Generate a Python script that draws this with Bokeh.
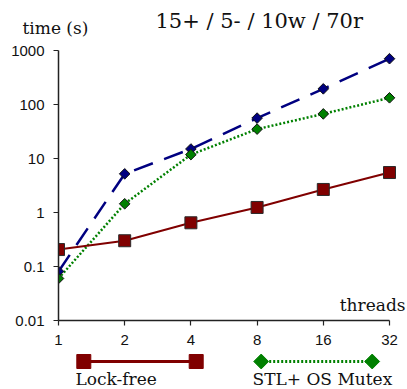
import math
from bokeh.plotting import figure
from bokeh.layouts import column
from bokeh.models import Range1d, FixedTicker, Label
from bokeh.embed import file_html
from bokeh.resources import INLINE

# ---- data ----
threads = [1, 2, 4, 8, 16, 32]
lock_free = [0.206, 0.30, 0.645, 1.24, 2.67, 5.5]
stl_blue = [0.081, 5.2, 15, 56, 195, 705]
stl_os_mutex = [0.06, 1.45, 11.8, 35, 67, 133]
x_ticks = [1, 2, 4, 8, 16, 32]
x_labels = ["1", "2", "4", "8", "16", "32"]
y_ticks = [0.01, 0.1, 1, 10, 100, 1000]
y_labels = ["0.01", "0.1", "1", "10", "100", "1000"]
legend_names = ["Lock-free", "STL+ OS Mutex"]
title_text = "15+ / 5- / 10w / 70r"
y_title = "time (s)"
x_title = "threads"

RED = "#800000"
BLUE = "#000080"
GREEN = "#008000"
SERIF = "DejaVu Serif"
SANS = "Liberation Sans"
TXT = "#111111"

W = 407
H_TOP = 40
H_MAIN = 313
H_LEG = 389 - H_TOP - H_MAIN

FRAME_LEFT = 58
PLOT_W = 331
FRAME_W = W - FRAME_LEFT
x_end = 2 ** (math.log2(x_ticks[-1]) * FRAME_W / PLOT_W)


def strip(height):
    f = figure(width=W, height=height, x_range=Range1d(0, W), y_range=Range1d(height, 0),
               output_backend="svg", toolbar_location=None,
               x_axis_location=None, y_axis_location=None,
               min_border_left=0, min_border_right=0, min_border_top=0, min_border_bottom=0)
    f.frame_align = False
    f.outline_line_color = None
    f.xgrid.visible = False
    f.ygrid.visible = False
    return f


# ---- top strip: title texts ----
top = strip(H_TOP)
top.add_layout(Label(x=155, y=20, text=title_text, text_font=SERIF, text_font_size="21px",
                     text_color=TXT, text_baseline="alphabetic"))
top.add_layout(Label(x=22, y=27, text=y_title, text_font=SERIF, text_font_size="17px",
                     text_color=TXT, text_baseline="alphabetic"))

# ---- main chart ----
p = figure(width=W, height=H_MAIN, x_axis_type="log", y_axis_type="log",
           x_range=Range1d(1, x_end), y_range=Range1d(y_ticks[0], y_ticks[-1]),
           output_backend="svg", toolbar_location=None,
           min_border_left=FRAME_LEFT, min_border_right=0, min_border_top=10,
           min_border_bottom=H_MAIN - 10 - 270)
p.frame_align = False
p.outline_line_color = None
p.xgrid.visible = False
p.ygrid.visible = False

for ax in (p.xaxis[0], p.yaxis[0]):
    ax.axis_line_color = "#222222"
    ax.axis_line_width = 1.5
    ax.major_tick_line_color = "#222222"
    ax.major_tick_line_width = 1.2
    ax.major_tick_in = 0
    ax.major_tick_out = 5
    ax.minor_tick_line_color = None
    ax.major_label_text_font = SANS
    ax.major_label_text_font_size = "15px"
    ax.major_label_text_color = TXT
    ax.major_label_standoff = 9

p.xaxis.bounds = (x_ticks[0], x_ticks[-1])
p.xaxis.ticker = FixedTicker(ticks=x_ticks)
p.yaxis.ticker = FixedTicker(ticks=y_ticks)
p.xaxis.major_label_overrides = {t: l for t, l in zip(x_ticks, x_labels)}
p.yaxis.major_label_overrides = {t: l for t, l in zip(y_ticks, y_labels)}

p.line(threads, stl_blue, line_color=BLUE, line_width=2.5, line_dash="20 12")
p.line(threads, stl_os_mutex, line_color=GREEN, line_width=2.5, line_dash="2 2")
p.line(threads, lock_free, line_color=RED, line_width=2)
p.scatter(threads, lock_free, marker="square", size=12, fill_color=RED,
          line_color="#2a2a2a", line_width=1)
p.scatter(threads, stl_blue, marker="square", size=7.5, angle=math.pi / 4,
          fill_color=BLUE, line_color="#111111", line_width=1)
p.scatter(threads, stl_os_mutex, marker="square", size=7.5, angle=math.pi / 4,
          fill_color=GREEN, line_color="#111111", line_width=1)

p.add_layout(Label(x=W - 2, y=304 - H_TOP, x_units="canvas", y_units="canvas", text=x_title,
                   text_font=SERIF, text_font_size="17px", text_color=TXT,
                   text_baseline="alphabetic", text_align="right"))

# ---- legend strip ----
lg = strip(H_LEG)
ly = 361 - H_TOP - H_MAIN
red_x = [83.3, 195.7]
green_x = [260.7, 371.7]
lg.line(red_x, [ly, ly], line_color=RED, line_width=3)
lg.scatter(red_x, [ly, ly], marker="square", size=14, fill_color=RED, line_color=RED)
lg.line(green_x, [ly, ly], line_color=GREEN, line_width=3, line_dash="2 2")
lg.scatter(green_x, [ly, ly], marker="square", size=10.5, angle=math.pi / 4,
           fill_color=GREEN, line_color=GREEN)
base = 378 - H_TOP - H_MAIN
lg.add_layout(Label(x=75, y=base, text=legend_names[0], text_font=SERIF,
                    text_font_size="17px", text_color=TXT, text_baseline="alphabetic"))
lg.add_layout(Label(x=252, y=base, text=legend_names[1], text_font=SERIF,
                    text_font_size="17px", text_color=TXT, text_baseline="alphabetic"))

layout = column(top, p, lg, spacing=0)
open("out.html", "w").write(file_html(layout, INLINE))
